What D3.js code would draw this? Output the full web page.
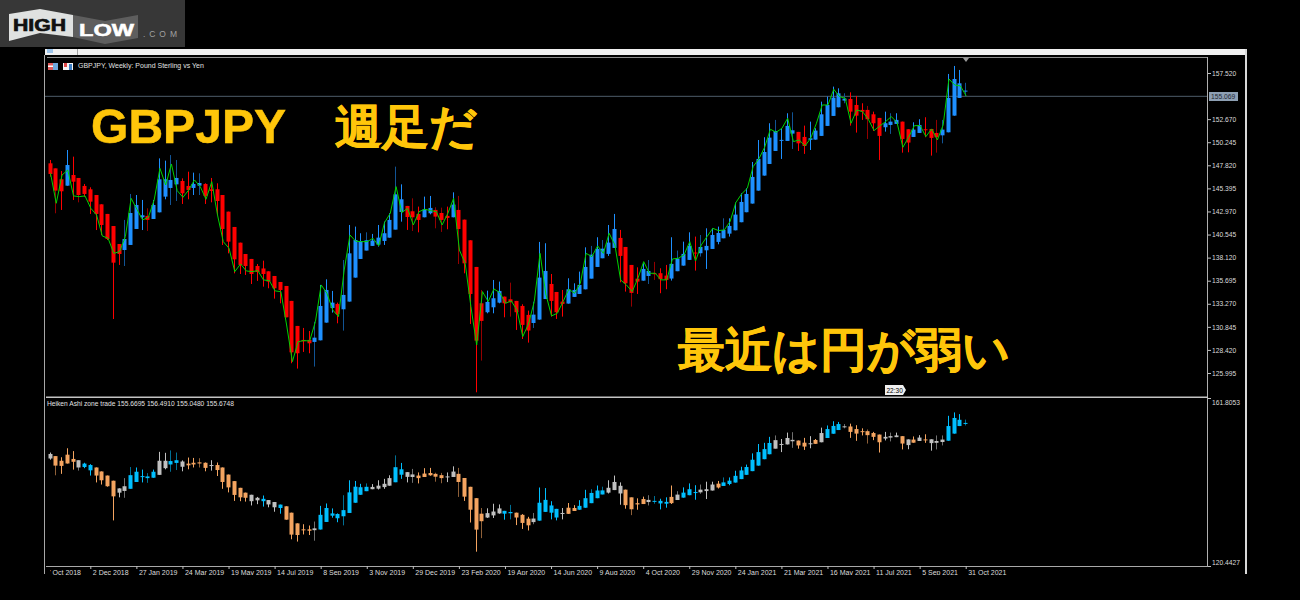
<!DOCTYPE html>
<html>
<head>
<meta charset="utf-8">
<script src="https://cdn.jsdelivr.net/npm/d3@7"></script>
<style>
  html, body { margin: 0; padding: 0; background: #000; }
  svg { display: block; }
  text { font-family: "Liberation Sans", sans-serif; }
</style>
</head>
<body>
<svg id="chart"></svg>
<script>
// weekly GBPJPY bars, one row = 10 bars
var opens = [
  148.03,147.50,146.35,145.68,146.80,146.49,145.65,145.30,144.70,143.72,
  142.71,141.44,139.55,138.92,139.45,141.13,142.36,142.50,142.18,142.88,
  144.53,145.44,145.82,146.17,145.65,145.44,145.68,145.86,145.30,145.30,
  144.70,142.95,141.34,139.69,138.50,137.98,137.24,136.98,136.68,136.19,
  135.56,135.14,133.57,130.94,129.47,129.47,129.26,129.43,131.29,132.83,
  133.25,132.69,133.50,136.02,137.98,138.86,139.35,139.49,139.87,140.22,
  141.06,142.92,143.55,142.99,142.71,142.36,142.78,143.13,142.81,142.50,
  142.36,143.13,142.11,139.94,137.14,133.32,132.38,132.90,133.39,134.02,
  133.74,133.57,133.04,132.10,131.25,131.61,133.77,135.35,134.51,133.50,
  133.29,133.99,134.30,134.79,135.91,137.14,138.05,138.51,139.14,140.19,
  139.24,137.35,135.91,135.70,136.19,136.48,136.48,136.23,135.92,136.69,
  137.28,137.88,138.65,138.58,138.89,139.03,139.77,140.15,140.64,140.99,
  141.84,142.89,143.80,145.16,146.74,147.96,149.33,150.42,150.38,151.15,
  151.33,150.80,150.49,150.52,150.91,151.96,153.01,153.92,154.62,154.79,
  154.16,153.64,153.64,153.18,152.80,151.82,152.06,152.17,152.41,151.61,
  150.80,151.22,151.61,151.64,151.22,150.97,151.29,153.04,154.90,155.67
];
var highs = [
  148.38,147.50,147.22,149.43,148.73,146.49,145.86,145.51,144.70,143.72,
  142.71,141.44,139.55,142.08,144.81,144.70,144.18,143.30,144.18,148.55,
  148.31,148.90,148.38,146.45,147.15,147.05,146.98,145.93,146.49,145.93,
  144.70,142.95,141.34,139.69,138.50,137.98,137.45,137.80,136.68,136.19,
  135.56,135.14,133.57,130.94,130.73,130.41,131.39,135.25,135.84,134.62,
  133.39,137.87,141.55,141.38,140.68,140.78,140.61,141.55,141.90,142.78,
  147.68,145.82,143.55,144.35,143.48,144.53,144.60,143.41,143.37,143.48,
  144.98,144.60,142.11,139.94,137.14,134.72,134.65,135.77,135.60,134.02,
  135.49,133.57,133.22,132.55,133.50,139.77,139.63,136.40,134.51,134.72,
  135.95,135.42,136.65,139.20,139.35,140.26,139.97,141.55,142.71,141.03,
  139.24,137.35,137.10,137.52,137.87,137.67,137.00,137.35,140.26,138.86,
  139.80,140.78,140.33,140.50,141.20,141.20,141.38,142.25,142.25,143.90,
  144.88,145.41,148.17,150.48,150.77,152.24,152.59,151.71,153.29,153.39,
  151.33,151.99,152.41,151.71,154.51,155.04,156.09,155.91,155.39,155.49,
  155.11,154.34,154.06,153.46,152.80,153.46,153.29,153.29,152.41,151.61,
  152.34,152.66,152.87,151.64,152.59,152.59,157.42,158.26,157.84,156.49
];
var lows = [
  146.63,142.78,143.13,145.68,144.18,143.93,144.53,142.71,141.02,140.50,
  139.97,131.67,137.35,137.24,139.45,141.13,141.02,140.92,142.18,142.88,
  144.25,143.65,144.07,143.76,144.25,144.70,144.70,143.76,143.93,142.60,
  139.45,138.57,136.47,136.40,136.30,135.35,135.67,135.07,134.90,133.81,
  133.32,131.85,127.02,126.46,128.21,128.07,126.67,129.43,131.29,132.34,
  131.22,130.45,133.50,136.02,137.98,138.86,139.35,139.28,139.45,140.22,
  141.06,141.90,141.03,140.92,140.78,142.36,142.67,141.20,140.82,141.10,
  142.36,137.45,136.47,131.15,123.97,127.30,132.27,132.27,133.32,131.85,
  131.92,130.52,129.57,129.19,130.73,131.61,133.77,131.92,131.68,131.92,
  133.29,133.99,134.30,134.79,135.91,137.14,138.05,138.30,139.14,135.53,
  134.55,132.97,134.30,135.70,135.35,135.78,134.38,134.80,135.71,136.69,
  137.28,137.88,136.76,138.23,136.93,139.03,139.52,140.15,140.33,140.99,
  141.84,142.89,143.80,145.16,146.74,147.96,149.33,148.49,150.38,149.54,
  149.33,149.02,149.43,150.52,150.91,151.96,153.01,153.92,154.34,151.99,
  151.26,152.59,150.59,151.43,148.38,151.36,151.12,152.17,149.15,149.19,
  150.80,151.22,150.77,148.84,149.15,150.13,151.29,153.04,154.90,155.05
];
var closes = [
  146.91,145.16,145.09,147.85,146.10,144.70,144.81,144.00,142.71,141.55,
  140.08,137.59,138.50,140.08,142.81,143.65,142.57,142.08,143.65,146.35,
  146.35,146.28,146.49,144.88,145.23,145.86,145.96,144.60,145.12,144.07,
  141.13,139.80,137.94,137.35,137.24,136.40,136.61,136.40,135.60,134.90,
  134.72,131.85,128.17,128.07,129.33,129.12,129.71,133.04,134.72,133.39,
  132.20,134.20,138.57,139.97,139.84,139.94,139.91,140.22,140.68,142.08,
  144.77,144.25,142.39,142.36,142.08,143.20,143.34,142.43,142.08,142.29,
  143.69,141.13,137.52,134.30,129.40,131.47,133.46,133.85,134.62,133.32,
  133.43,132.38,131.05,130.46,132.13,136.02,136.72,133.57,132.38,133.25,
  134.79,134.72,135.25,137.14,138.43,139.03,139.06,139.70,141.13,138.30,
  135.42,134.41,135.60,136.93,136.72,136.41,135.85,135.78,137.46,138.02,
  138.51,139.35,138.58,139.24,139.35,140.50,140.71,141.03,141.45,142.64,
  143.97,144.81,146.60,148.49,149.22,150.73,151.43,150.49,151.96,151.50,
  150.13,149.85,150.66,151.47,153.18,154.16,154.93,155.39,154.83,153.46,
  153.04,153.46,152.66,152.24,150.91,152.24,152.41,152.59,150.59,150.21,
  151.57,152.06,151.54,150.70,150.77,151.57,154.90,156.89,156.44,155.67
];
// green line on the price pane
var signal = [
  146.98,143.83,146.80,147.33,144.60,144.53,144.60,143.30,142.60,140.39,
  140.15,138.57,138.75,140.32,144.35,143.20,142.08,142.36,144.18,147.50,
  145.75,147.96,145.16,144.46,145.23,146.28,145.58,144.25,146.10,142.60,
  139.80,139.10,136.65,137.45,136.72,136.65,136.75,135.77,135.70,134.62,
  134.55,131.04,127.19,129.29,129.40,129.36,131.39,135.25,134.37,132.62,
  131.92,136.82,140.50,139.84,139.80,139.80,140.15,139.35,141.80,142.78,
  145.58,142.85,143.30,141.55,142.95,143.20,143.06,142.95,141.55,142.78,
  144.35,138.92,137.52,132.97,128.94,134.55,133.50,134.83,134.44,133.32,
  133.57,132.62,129.82,131.15,133.50,138.57,134.30,131.99,132.27,133.50,
  134.79,134.37,135.42,138.57,138.22,139.35,138.57,140.68,139.45,135.77,
  135.25,134.55,135.95,137.70,136.47,136.48,135.78,135.78,137.98,138.05,
  138.40,139.80,137.77,139.45,140.33,141.20,140.96,141.03,141.91,143.90,
  144.81,145.41,147.68,148.49,149.71,151.61,151.29,151.71,152.76,150.31,
  150.49,149.85,150.66,152.24,154.16,154.16,155.81,155.04,154.86,152.24,
  153.64,153.46,152.66,151.47,151.96,152.41,152.94,152.31,149.71,150.77,
  151.99,151.99,150.84,151.64,150.49,152.06,156.89,156.26,156.16,155.11
];
// zone of each bar in the lower pane: b up, o down, g neutral
var zones = (
  "goooogbboo" + "ooggbbbbbg" + "gbbgoooogo" + "oooooggbgg" +
  "booooogbbb" + "bbbbbbgggg" + "bbggooooog" + "gooooogggb" +
  "booogbbbbg" + "oobbbbbggg" + "oooogbbbog" + "bbbgggobbb" +
  "bbbbbbgggg" + "oogogbbbgo" + "ooooogggog" + "ogogggbbbb"
).split("");
// bars whose wick is drawn in the darker shade
var dimWicks = [1,5,13,14,17,21,22,26,46,51,55,60,63,67,68,71,75,80,84,94,96,101,
  104,105,109,113,117,126,129,138,142,146,154,155,159];

var priceTicks = [157.52,152.67,150.245,147.82,145.395,142.97,140.545,138.12,135.695,133.27,130.845,128.42,125.995];
var indicatorTicks = [161.8053,120.4427];
var lastPrice = 155.069;
var dateBars = [-1,7,15,23,31,39,47,55,63,71,79,87,95,103,111,119,127,135,143,151,159];
var dateLabels = ["7 Oct 2018","2 Dec 2018","27 Jan 2019","24 Mar 2019","19 May 2019","14 Jul 2019","8 Sep 2019","3 Nov 2019",
  "29 Dec 2019","23 Feb 2020","19 Apr 2020","14 Jun 2020","9 Aug 2020","4 Oct 2020","29 Nov 2020","24 Jan 2021",
  "21 Mar 2021","16 May 2021","11 Jul 2021","5 Sep 2021","31 Oct 2021"];

var svgWidth = 1300, svgHeight = 600;
var left = 45, right = 1207;

var svg = d3.select("#chart")
  .attr("width", svgWidth)
  .attr("height", svgHeight);

svg.append("rect")
  .attr("width", svgWidth)
  .attr("height", svgHeight)
  .attr("fill", "#000");

var defs = svg.append("defs");
defs.append("clipPath").attr("id", "mainClip").append("rect")
  .attr("x", left).attr("y", 58).attr("width", right - left).attr("height", 339);
defs.append("clipPath").attr("id", "dateClip").append("rect")
  .attr("x", 50).attr("y", 566).attr("width", 1156).attr("height", 9);

var x = d3.scaleLinear().domain([0, 159]).range([50, 965.7]);
var yMain = d3.scaleLinear().domain([125.995, 157.52]).range([373, 73]);
var ySub = d3.scaleLinear().domain([120.4427, 161.8053]).range([566, 398]);

// logo box
var logo = svg.append("g");
logo.append("rect").attr("width", 185).attr("height", 47).attr("fill", "#373737");
logo.append("polygon").attr("points", "9,14 40,9 73,15 73,37 40,33 9,41").attr("fill", "#dfe1e0");
logo.append("polygon").attr("points", "73,15 105,21 138,15 138,38 105,44 73,37").attr("fill", "#5e5e5e");
logo.append("text").attr("x", 13).attr("y", 31).attr("textLength", 53).attr("lengthAdjust", "spacingAndGlyphs")
  .attr("font-size", 17).attr("font-weight", "bold").attr("fill", "#111").attr("stroke", "#111").attr("stroke-width", 0.7).text("HIGH");
logo.append("text").attr("x", 79).attr("y", 36).attr("textLength", 55).attr("lengthAdjust", "spacingAndGlyphs")
  .attr("font-size", 16).attr("font-weight", "bold").attr("fill", "#fff").attr("stroke", "#fff").attr("stroke-width", 0.5).text("LOW");
logo.append("text").attr("x", 143).attr("y", 37).attr("textLength", 34)
  .attr("font-size", 8.5).attr("fill", "#a0a0a0").text(".COM");

// window frame
svg.append("rect").attr("x", left).attr("y", 49).attr("width", 1202).attr("height", 6).attr("fill", "#f0f0f0");
svg.append("rect").attr("x", 47).attr("y", 49).attr("width", 6).attr("height", 4).attr("fill", "#9cc4ea");
svg.append("rect").attr("x", 77).attr("y", 49).attr("width", 1).attr("height", 6).attr("fill", "#a0a0a0");
svg.append("rect").attr("x", 44).attr("y", 55).attr("width", 1).attr("height", 519).attr("fill", "#a8a8a8");
svg.append("rect").attr("x", 1245).attr("y", 49).attr("width", 2).attr("height", 525).attr("fill", "#d8d8d8");
svg.append("rect").attr("x", 47).attr("y", 57).attr("width", 1161).attr("height", 1).attr("fill", "#8c8c8c");
svg.append("rect").attr("x", 1207).attr("y", 57).attr("width", 1).attr("height", 509).attr("fill", "#b0b0b0");
svg.append("rect").attr("x", 46).attr("y", 396.5).attr("width", 1162).attr("height", 1.5).attr("fill", "#c4c4c4");
svg.append("rect").attr("x", 46).attr("y", 566).attr("width", 1162).attr("height", 1).attr("fill", "#a8a8a8");

function drawCandles(g, y, colorOf) {
  var bars = g.selectAll("g.bar")
    .data(d3.range(opens.length))
    .enter()
    .append("g")
    .attr("class", "bar");

  bars.append("rect")
    .attr("x", function (d) { return Math.floor(x(d)); })
    .attr("y", function (d) { return y(highs[d]); })
    .attr("width", 1)
    .attr("height", function (d) { return Math.max(1, y(lows[d]) - y(highs[d])); })
    .attr("fill", function (d) {
      var c = d3.color(colorOf(d));
      return dimWicks.indexOf(d) >= 0 ? c.darker(1.5) : c;
    });

  bars.append("rect")
    .attr("x", function (d) { return Math.floor(x(d)) - 1.5; })
    .attr("y", function (d) { return y(Math.max(opens[d], closes[d])); })
    .attr("width", 4)
    .attr("height", function (d) { return Math.max(1, Math.abs(y(opens[d]) - y(closes[d]))); })
    .attr("fill", colorOf);
}

// price pane
var mainPane = svg.append("g").attr("clip-path", "url(#mainClip)");

mainPane.append("line")
  .attr("x1", left).attr("x2", right)
  .attr("y1", yMain(lastPrice)).attr("y2", yMain(lastPrice))
  .attr("stroke", "#4e5c6a");

drawCandles(mainPane, yMain, function (d) {
  return closes[d] >= opens[d] ? "#1e90ff" : "#ff0000";
});

var signalLine = d3.line()
  .x(function (d, i) { return x(i) + 0.5; })
  .y(function (d) { return yMain(d); });

mainPane.append("path")
  .datum(signal)
  .attr("fill", "none")
  .attr("stroke", "#00d400")
  .attr("stroke-width", 1)
  .attr("d", signalLine);

// indicator pane, same bars on its own scale
var subPane = svg.append("g");
var zoneColors = { b: "#00bfff", o: "#f4a460", g: "#c0c0c0" };
drawCandles(subPane, ySub, function (d) { return zoneColors[zones[d]]; });

// axes
function styleAxis(g) {
  g.select(".domain").remove();
  g.selectAll("line").attr("stroke", "#c0c0c0");
  g.selectAll("text")
    .attr("fill", "#dcdcdc")
    .attr("font-size", 6.7)
    .attr("font-family", "Liberation Sans");
}

svg.append("g")
  .attr("transform", "translate(1208,0)")
  .call(d3.axisRight(yMain).tickValues(priceTicks).tickSize(3).tickPadding(1).tickFormat(d3.format(".3f")))
  .call(styleAxis);

svg.append("g")
  .attr("transform", "translate(1208,0)")
  .call(d3.axisRight(ySub).tickValues(indicatorTicks).tickSize(3).tickPadding(1).tickFormat(d3.format(".4f")))
  .call(styleAxis)
  .selectAll("text")
  .attr("dy", function (d) { return d > 140 ? "0.95em" : "-0.25em"; });

var dateAxis = svg.append("g")
  .attr("clip-path", "url(#dateClip)")
  .append("g")
  .attr("transform", "translate(0,566)")
  .call(d3.axisBottom(x).tickValues(dateBars).tickSize(3).tickPadding(0)
    .tickFormat(function (d, i) { return dateLabels[i]; }))
  .call(styleAxis);
dateAxis.selectAll("text")
  .attr("font-size", 7)
  .attr("text-anchor", "start")
  .attr("x", 2)
  .attr("y", 4.5);

// last price tag
svg.append("rect").attr("x", 1209).attr("y", 92).attr("width", 29).attr("height", 9).attr("fill", "#8d9fb3");
svg.append("text").attr("x", 1211).attr("y", 99).attr("font-size", 6.7).attr("fill", "#1c2530").text(d3.format(".3f")(lastPrice));

// top marker and time tag
svg.append("path").attr("d", "M963,58 L969,58 L966,62 Z").attr("fill", "#9a9a9a");
svg.append("path").attr("d", "M885,385 L903,385 L906,390 L903,395 L885,395 Z").attr("fill", "#f0f0f0");
svg.append("text").attr("x", 886.5).attr("y", 393).attr("font-size", 6.5).attr("fill", "#000").text("22:30");

// pane captions
svg.append("rect").attr("x", 48).attr("y", 63).attr("width", 10).attr("height", 7).attr("fill", "#e05a5a");
svg.append("rect").attr("x", 48).attr("y", 65.5).attr("width", 10).attr("height", 1.5).attr("fill", "#fff");
svg.append("rect").attr("x", 53).attr("y", 63).attr("width", 5).attr("height", 7).attr("fill", "#6fa8dc");
svg.append("rect").attr("x", 63).attr("y", 63).attr("width", 10).attr("height", 7).attr("fill", "#f4f4f4");
svg.append("rect").attr("x", 64).attr("y", 63).attr("width", 3).attr("height", 4).attr("fill", "#e04848");
svg.append("rect").attr("x", 69).attr("y", 64).attr("width", 3).attr("height", 6).attr("fill", "#3d7fc4");
svg.append("text").attr("x", 78).attr("y", 68).attr("font-size", 7).attr("fill", "#e0e0e0")
  .text("GBPJPY, Weekly:  Pound Sterling vs Yen");
svg.append("text").attr("x", 47).attr("y", 406).attr("font-size", 6.67).attr("fill", "#e0e0e0")
  .text("Heiken Ashi zone trade 155.6695 156.4910 155.0480 155.6748");

// big captions
var captionFont = "'Noto Sans CJK JP', sans-serif";
function caption(tx, ty, size, label, width) {
  var t = svg.append("text").attr("x", tx).attr("y", ty)
    .attr("font-family", captionFont).attr("font-size", size).attr("font-weight", 900)
    .attr("fill", "#ffc60a").attr("stroke", "#ffc60a").attr("stroke-width", 0.5).text(label);
  if (width) t.attr("textLength", width).attr("lengthAdjust", "spacingAndGlyphs");
}
caption(91, 143, 48, "GBPJPY", 195);
caption(335, 143, 47, "週足だ");
caption(678, 366, 47, "最近は円が弱い");
</script>
</body>
</html>
